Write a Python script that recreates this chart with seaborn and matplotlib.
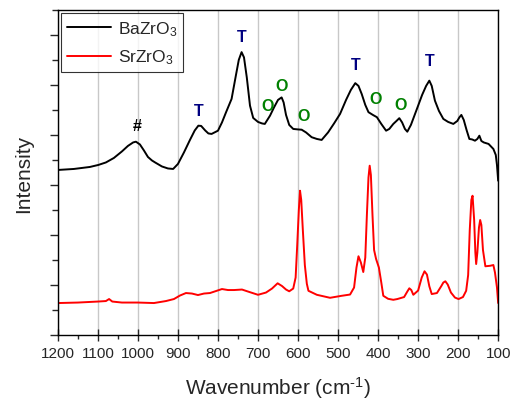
import numpy as np
import pandas as pd
import seaborn as sns
import matplotlib.pyplot as plt
from matplotlib.ticker import MultipleLocator, NullFormatter

# BaZrO3 spectrum (wavenumber, intensity)
ba_wn = [1200, 1180, 1160, 1140, 1120, 1099, 1080, 1060, 1040, 1025, 1012, 1005,
         995, 985, 975, 965, 957, 940, 925, 912, 900, 885, 870, 858, 849, 842,
         832, 824, 816, 800, 790, 780, 766, 755, 748, 741, 735, 728, 720, 712,
         700, 690, 683, 670, 660, 650, 641, 636, 630, 622, 612, 600, 591, 580,
         566, 553, 541, 525, 510, 495, 480, 468, 457, 449, 441, 432, 424, 413,
         403, 392, 380, 372, 362, 354, 347, 340, 333, 327, 318, 303, 290, 280,
         272, 266, 258, 248, 237, 225, 212, 202, 197, 192, 186, 179, 172, 165,
         158, 152, 147, 142, 136, 124, 112, 106, 103, 100]
ba_int = [6.60, 6.62, 6.64, 6.68, 6.72, 6.80, 6.90, 7.08, 7.34, 7.56, 7.70, 7.73,
          7.62, 7.38, 7.12, 6.98, 6.90, 6.74, 6.66, 6.64, 6.84, 7.30, 7.80, 8.18,
          8.37, 8.36, 8.18, 8.06, 8.04, 8.17, 8.50, 8.90, 9.44, 10.40, 11.00, 11.31,
          11.10, 10.30, 9.17, 8.68, 8.52, 8.46, 8.44, 8.77, 9.10, 9.40, 9.50, 9.30,
          8.80, 8.40, 8.24, 8.22, 8.21, 8.10, 7.91, 7.84, 7.80, 8.10, 8.46, 8.84,
          9.40, 9.80, 10.07, 9.96, 9.64, 9.20, 8.91, 8.80, 8.71, 8.44, 8.17, 8.24,
          8.44, 8.56, 8.67, 8.50, 8.24, 8.13, 8.40, 9.04, 9.60, 9.96, 10.17, 9.96,
          9.37, 8.96, 8.64, 8.52, 8.44, 8.56, 8.70, 8.80, 8.60, 8.20, 7.84, 7.82,
          7.77, 7.84, 7.97, 7.76, 7.70, 7.64, 7.44, 7.20, 6.80, 6.17]

# SrZrO3 spectrum
sr_wn = [1200, 1150, 1100, 1080, 1072, 1064, 1040, 1000, 960, 930, 910, 895,
         880, 865, 850, 835, 820, 805, 790, 775, 760, 740, 725, 700, 680, 665,
         651, 640, 630, 622, 612, 606, 602, 598, 595, 592, 588, 583, 578, 574,
         553, 520, 491, 470, 460, 454, 449, 443, 437, 432, 428, 424, 421, 418,
         414, 410, 405, 398, 392, 387, 375, 362, 352, 335, 327, 322, 317, 312,
         300, 291, 284, 278, 272, 266, 253, 242, 237, 232, 226, 218, 208, 199,
         188, 180, 175, 171, 167, 164, 160, 157, 155, 152, 148, 145, 142, 138,
         132, 120, 112, 108, 103, 100]
sr_int = [1.28, 1.30, 1.34, 1.36, 1.44, 1.34, 1.30, 1.30, 1.28, 1.36, 1.44, 1.58,
          1.68, 1.66, 1.60, 1.66, 1.68, 1.76, 1.84, 1.80, 1.80, 1.82, 1.74, 1.61,
          1.70, 1.86, 2.07, 1.96, 1.82, 1.75, 1.86, 2.30, 3.60, 5.00, 5.77, 5.40,
          4.20, 2.80, 2.05, 1.77, 1.61, 1.49, 1.57, 1.62, 1.90, 2.70, 3.15, 2.90,
          2.52, 3.10, 4.80, 6.30, 6.77, 6.40, 4.80, 3.40, 3.04, 2.70, 2.10, 1.57,
          1.45, 1.41, 1.44, 1.52, 1.74, 1.87, 1.80, 1.61, 1.78, 2.30, 2.55, 2.42,
          1.95, 1.64, 1.68, 1.96, 2.10, 2.15, 2.02, 1.70, 1.50, 1.44, 1.52, 1.77,
          2.40, 4.20, 5.40, 5.57, 4.60, 3.30, 2.84, 3.30, 4.30, 4.60, 4.40, 3.40,
          2.75, 2.77, 2.80, 2.50, 1.90, 1.28]

# peak assignments: label, wavenumber, height, colour
ann_text = ["#", "T", "T", "O", "O", "O", "T", "O", "O", "T"]
ann_wn = [1002, 847, 742, 675, 640, 585, 457, 407, 345, 270]
ann_y = [8.36, 8.96, 11.92, 9.16, 9.96, 8.76, 10.80, 9.44, 9.20, 10.96]
ann_col = ["black", "navy", "navy", "green", "green", "green", "navy", "green", "green", "navy"]

sns.set_style("white")
plt.rcParams["font.family"] = ["Liberation Sans", "DejaVu Sans"]
plt.rcParams["mathtext.fontset"] = "custom"
plt.rcParams["mathtext.rm"] = "Liberation Sans"
plt.rcParams["mathtext.it"] = "Liberation Sans"
plt.rcParams["mathtext.default"] = "regular"

fig = plt.figure(figsize=(5.12, 4.02), dpi=100)
ax = fig.add_axes([0.113, 0.164, 0.86, 0.809])

ba = pd.DataFrame({"wn": ba_wn, "I": ba_int})
sr = pd.DataFrame({"wn": sr_wn, "I": sr_int})
sns.lineplot(data=ba, x="wn", y="I", sort=False, color="black", lw=1.4, ax=ax,
             label="BaZrO$_3$")
sns.lineplot(data=sr, x="wn", y="I", sort=False, color="red", lw=1.4, ax=ax,
             label="SrZrO$_3$")

for t, w, y, c in zip(ann_text, ann_wn, ann_y, ann_col):
    ax.text(w, y, t, color=c, fontsize=11.5, fontweight="bold", ha="center", va="center")

ax.set_xlim(1200, 100)
ax.set_ylim(0, 13)
ax.xaxis.set_major_locator(MultipleLocator(100))
ax.xaxis.set_minor_locator(MultipleLocator(50))
ax.yaxis.set_major_locator(MultipleLocator(2))
ax.yaxis.set_minor_locator(MultipleLocator(1))
ax.yaxis.set_major_formatter(NullFormatter())
ax.grid(axis="x", color="#c8c8c8", lw=1)
ax.tick_params(axis="x", which="major", direction="inout", length=8, width=1,
               bottom=True, labelsize=11, pad=4)
ax.tick_params(axis="x", which="minor", direction="out", length=3, width=1, bottom=True)
ax.tick_params(axis="y", which="major", direction="out", length=6, width=1, left=True)
ax.tick_params(axis="y", which="minor", direction="out", length=4, width=1, left=True)
for s in ax.spines.values():
    s.set_color("black")
    s.set_linewidth(1)

ax.set_xlabel(r"Wavenumber (cm$^{\text{-1}}$)", fontsize=15, labelpad=10)
ax.set_ylabel("Intensity", fontsize=15, labelpad=8)

leg = ax.legend(loc="upper left", fontsize=12.5, frameon=True, fancybox=False,
                edgecolor="black", handlelength=2.5, handletextpad=0.4,
                borderaxespad=0.2, borderpad=0.35, labelspacing=0.55)
leg.get_frame().set_linewidth(0.8)

fig.savefig("out.png", dpi=100)
